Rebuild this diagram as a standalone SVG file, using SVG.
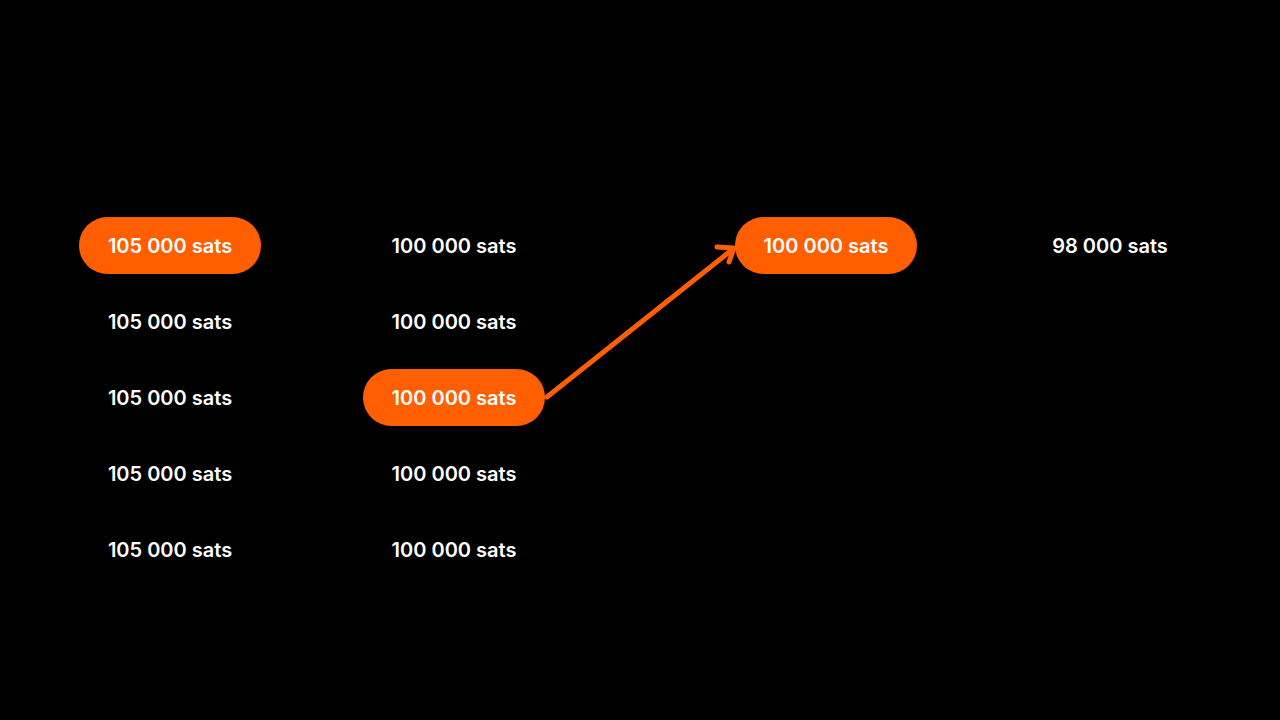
<svg xmlns="http://www.w3.org/2000/svg" width="1280" height="720" viewBox="0 0 1280 720">
<style>
.bg{fill:#000}
.pill{fill:#FF5F00}
.t{font-family:Inter,"Noto Sans",sans-serif;font-size:20px;font-weight:600;fill:#fff;text-anchor:middle;dominant-baseline:central}
.conn{stroke:#FF5F00;stroke-width:5;fill:none;stroke-linecap:round;stroke-linejoin:round}
</style>
<rect class="bg" x="0" y="0" width="1280" height="720"/>
<g id="c1r1"><rect class="pill" x="79" y="217" width="182" height="57" rx="28.5"/><text class="t" x="170" y="246">105 000 sats</text></g>
<g id="c1r2"><text class="t" x="170" y="322">105 000 sats</text></g>
<g id="c1r3"><text class="t" x="170" y="398">105 000 sats</text></g>
<g id="c1r4"><text class="t" x="170" y="474">105 000 sats</text></g>
<g id="c1r5"><text class="t" x="170" y="550">105 000 sats</text></g>
<g id="c2r1"><text class="t" x="454" y="246">100 000 sats</text></g>
<g id="c2r2"><text class="t" x="454" y="322">100 000 sats</text></g>
<g id="c2r3"><rect class="pill" x="363" y="369" width="182" height="57" rx="28.5"/><text class="t" x="454" y="398">100 000 sats</text></g>
<g id="c2r4"><text class="t" x="454" y="474">100 000 sats</text></g>
<g id="c2r5"><text class="t" x="454" y="550">100 000 sats</text></g>
<g id="c3r1"><rect class="pill" x="735" y="217" width="182" height="57" rx="28.5"/><text class="t" x="826" y="246">100 000 sats</text></g>
<g id="c4r1"><text class="t" x="1110" y="246">98 000 sats</text></g>
<g id="connectors">
<path class="conn" d="M547 397 L733 249"/>
<path class="conn" d="M717 247 L734 248 L729 262"/>
</g>
</svg>
